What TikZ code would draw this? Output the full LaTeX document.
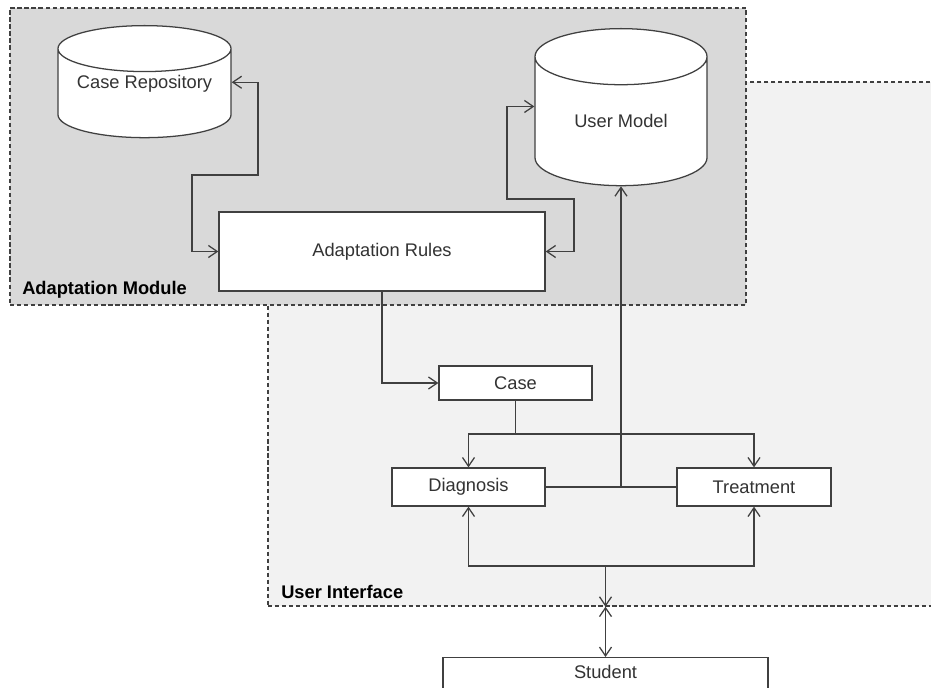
\documentclass[tikz,border=0pt]{standalone}
\usepackage{fontspec}
\setmainfont{Liberation Sans}
\usetikzlibrary{shapes.geometric,arrows.meta}
\definecolor{linegray}{HTML}{404040}
\definecolor{modgray}{HTML}{D9D9D9}
\definecolor{uigray}{HTML}{F2F2F2}
\definecolor{textgray}{HTML}{333333}
\tikzset{
  region/.style={draw=linegray, line width=0.9pt, dash pattern=on 3pt off 2pt, inner sep=0pt},
  block/.style={draw=linegray, fill=white, line width=0.9pt, inner sep=0pt, text=textgray},
  store/.style={cylinder, shape border rotate=90, draw=linegray, fill=white, line width=0.9pt, inner sep=0pt, text=textgray},
  regionlabel/.style={font=\fontsize{13}{15}\selectfont\bfseries, text=black, anchor=base west, inner sep=0pt},
  link/.style={draw=linegray, line width=0.9pt},
}
\begin{document}
\begin{tikzpicture}[x=0.025cm, y=-0.025cm, >={Straight Barb[length=2.2mm,width=3mm]}, font=\fontsize{13}{15}\selectfont]
    \useasboundingbox (0,0) rectangle (931,688);
    \clip (0,0) rectangle (931,688);
    % the two modules
    \node[region, fill=uigray, minimum width=16.925cm, minimum height=13.1cm] (ui) at (606.5,344) {};
    \node[region, fill=modgray, minimum width=18.4cm, minimum height=7.425cm] (adapt) at (378,156.5) {};
    \node[regionlabel] (uilabel) at (281,598) {User Interface};
    \node[regionlabel] (adaptlabel) at (22,295) {Adaptation Module};
    % stores and boxes
    \node[store, anchor=north, aspect=0.34, minimum width=4.325cm, minimum height=2.8cm, text height=0pt, text depth=0.27cm] (repo) at (144.5,25) {Case Repository};
    \node[store, anchor=north, aspect=0.6, minimum width=4.3cm, minimum height=3.925cm, text height=0.4cm, text depth=0.1cm] (model) at (621,28) {User Model};
    \node[block, minimum width=8.15cm, minimum height=1.975cm] (rules) at (382,251.5) {Adaptation Rules};
    \node[block, minimum width=3.825cm, minimum height=0.85cm] (case) at (515.5,383) {Case};
    \node[block, minimum width=3.825cm, minimum height=0.95cm] (diag) at (468.5,487) {Diagnosis};
    \node[block, minimum width=3.85cm, minimum height=0.95cm] (treat) at (754,487) {Treatment};
    \node[block, anchor=north, minimum width=8.125cm, inner ysep=0.225cm, text height=0.3cm, text depth=1cm] (student) at (605.5,657) {Student};
    % connectors
    \draw[link, <->] ([yshift=0.28cm]repo.east) -| (258,175) -| (192,251.5) -- (rules.west);
    \draw[link, <->] ([yshift=0.375cm]model.west) -| (507,199) -| (574,251.5) -- (rules.east);
    \draw[link, ->] (rules.south) |- (case.west);
    \coordinate (fork) at (515.5,434);
    \draw[link] (case.south) -- (fork);
    \draw[link, ->] (fork) -| (diag.north);
    \draw[link, ->] (fork) -| (treat.north);
    \draw[link] (diag.east) -- (treat.west);
    \draw[link, ->] (model.south |- diag.east) -- (model.south);
    \coordinate (bus) at (student.north |- 0,566);
    \draw[link, <->] (diag.south) |- (bus) -| (treat.south);
    \draw[link, ->] (bus) -- (bus |- ui.south);
    \draw[link, <->] (bus |- ui.south) -- (student.north);
\end{tikzpicture}
\end{document}
